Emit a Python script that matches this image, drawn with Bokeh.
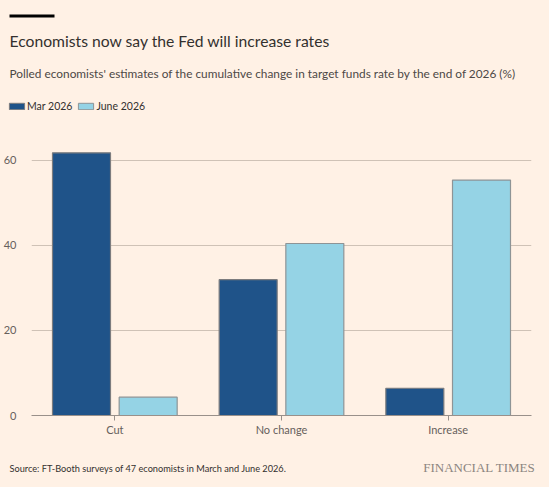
from bokeh.plotting import figure
from bokeh.layouts import column, row
from bokeh.models import (ColumnDataSource, FactorRange, Label, BoxAnnotation,
                          Legend, LegendItem, FixedTicker)
from bokeh.transform import dodge
from bokeh.embed import file_html
from bokeh.resources import INLINE

# Share of polled economists (%) expecting each outcome by end of 2026
categories = ["Cut", "No change", "Increase"]
mar_2026 = [61.7, 31.9, 6.4]
june_2026 = [4.3, 40.4, 55.3]
series_names = ["Mar 2026", "June 2026"]
y_ticks = [0, 20, 40, 60]

BG = "#FFF1E5"
DARK = "#1F5389"
LIGHT = "#95D3E5"
DARK_EDGE = "#7C7C7E"
LIGHT_EDGE = "#8E9496"
TEXT = "#33302E"
MUTED = "#66605C"
GRID = "#CFC2B6"
BASE = "#99908A"
SANS = "Lato"
W = 549


def blank(height):
    """A bare canvas whose data units are pixels measured from the top-left."""
    f = figure(width=W, height=height, x_range=(0, W), y_range=(height, 0),
               x_axis_location=None, y_axis_location=None,
               min_border=0, output_backend="svg", toolbar_location=None,
               background_fill_color=BG, border_fill_color=BG,
               outline_line_color=None)
    f.grid.visible = False
    return f


# ---- header: rule, title, subtitle, legend ----
header = blank(126)
header.add_layout(BoxAnnotation(left=9, right=54, top=14, bottom=17,
                                fill_color="#000000", fill_alpha=1, line_color=None))
header.add_layout(Label(x=9, y=40, text="Economists now say the Fed will increase rates",
                        text_font=SANS, text_font_size="15.7px", text_color=TEXT,
                        text_baseline="alphabetic"))
header.add_layout(Label(x=9, y=72.7,
                        text="Polled economists' estimates of the cumulative change in target funds rate by the end of 2026 (%)",
                        text_font=SANS, text_font_size="11.85px", text_color="#4D4845",
                        text_baseline="alphabetic"))

# legend keys share the bar styling; their single NaN row is never drawn
key_src = ColumnDataSource(dict(x=[float("nan")], top=[float("nan")]))
key_mar = header.vbar(x="x", top="top", width=1, source=key_src,
                      fill_color=DARK, line_color=DARK_EDGE)
key_june = header.vbar(x="x", top="top", width=1, source=key_src,
                       fill_color=LIGHT, line_color=LIGHT_EDGE)
legend = Legend(
    items=[LegendItem(label=series_names[0], renderers=[key_mar]),
           LegendItem(label=series_names[1], renderers=[key_june])],
    orientation="horizontal", location=(7, 14),
    glyph_width=19, glyph_height=8, label_height=10, label_standoff=1,
    spacing=4, padding=0, margin=0,
    border_line_alpha=0, background_fill_alpha=0,
    label_text_font=SANS, label_text_font_size="10.5px", label_text_color=TEXT,
)
header.add_layout(legend, "center")

# ---- main chart ----
source = ColumnDataSource(dict(cat=categories, mar=mar_2026, june=june_2026))

p = figure(
    x_range=FactorRange(*categories, range_padding=0),
    y_range=(0, 66),
    frame_width=500, frame_height=281,
    min_border_left=31, min_border_right=18,
    min_border_top=8, min_border_bottom=30,
    output_backend="svg", toolbar_location=None,
    background_fill_color=BG, border_fill_color=BG,
    outline_line_color=None,
)

p.vbar(x=dodge("cat", -0.2, range=p.x_range), top="mar", width=0.348,
       source=source, fill_color=DARK, line_color=DARK_EDGE, line_width=1.2)
p.vbar(x=dodge("cat", 0.2, range=p.x_range), top="june", width=0.348,
       source=source, fill_color=LIGHT, line_color=LIGHT_EDGE, line_width=1.2)

p.xgrid.grid_line_color = None
p.ygrid.grid_line_color = GRID
p.ygrid.grid_line_width = 1
p.yaxis.ticker = FixedTicker(ticks=y_ticks)
p.yaxis.axis_line_color = None
p.yaxis.major_tick_line_color = None
p.yaxis.minor_tick_line_color = None
p.yaxis.major_label_standoff = 9
p.yaxis.major_label_text_font = SANS
p.yaxis.major_label_text_font_size = "11px"
p.yaxis.major_label_text_color = MUTED

p.xaxis.axis_line_color = BASE
p.xaxis.axis_line_width = 1
p.xaxis.major_tick_line_color = BASE
p.xaxis.major_tick_in = 0
p.xaxis.major_tick_out = 5
p.xaxis.major_label_standoff = 2
p.xaxis.major_label_text_font = SANS
p.xaxis.major_label_text_font_size = "11px"
p.xaxis.major_label_text_color = MUTED

# ---- footer: source and masthead ----
footer = blank(42)
footer.add_layout(Label(x=9, y=23.3,
                        text="Source: FT-Booth surveys of 47 economists in March and June 2026.",
                        text_font=SANS, text_font_size="9.2px", text_color=TEXT,
                        text_baseline="alphabetic"))
footer.add_layout(Label(x=535, y=21.7, text="FINANCIAL TIMES", text_align="right",
                        text_font="Liberation Serif", text_font_size="13px",
                        text_color="#8C8580", text_baseline="alphabetic"))

chart_row = row(p, styles={"background-color": BG})
page = column(header, chart_row, footer, spacing=0,
              styles={"background-color": BG})
open("out.html", "w").write(file_html(page, INLINE))
